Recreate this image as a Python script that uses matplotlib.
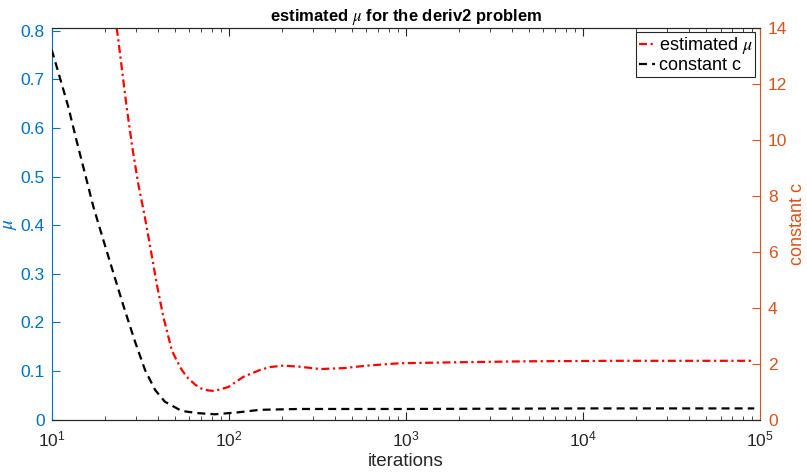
import numpy as np
import matplotlib
matplotlib.use("Agg")
import matplotlib.pyplot as plt
from matplotlib.ticker import LogLocator, NullFormatter, MultipleLocator

plt.rcParams['font.family'] = ['Liberation Sans', 'DejaVu Sans']
plt.rcParams['mathtext.fontset'] = 'stix'

# estimated mu (left axis)
mu_iters = [23.3, 23.8, 26.5, 28.7, 30.8, 33.6, 35.5, 39.2, 42.7, 47.7, 50.8, 54.2, 58, 64.6, 70, 76.7, 83, 99.5,
            120.9, 150, 170, 203, 250, 328, 450, 600, 929, 2000, 5000, 15000, 40000, 93000]
mu_vals = [0.806, 0.781, 0.644, 0.555, 0.486, 0.417, 0.369, 0.280, 0.212, 0.143, 0.122, 0.103, 0.088, 0.072, 0.064,
           0.060, 0.059, 0.067, 0.088, 0.102, 0.108, 0.111, 0.109, 0.104, 0.106, 0.111, 0.116, 0.118, 0.120,
           0.121, 0.121, 0.121]

# constant c (right axis)
c_iters = [10, 10.9, 12.4, 13.8, 15.4, 17.2, 19.6, 22.3, 25.4, 29.6, 33.7, 38.4, 43.6,
           54.2, 67.3, 83.7, 113, 150, 250, 1000, 10000, 93000]
c_vals = [13.22, 12.42, 11.19, 9.99, 8.81, 7.61, 6.41, 5.25, 4.08, 2.78, 1.77, 1.06, 0.64,
          0.31, 0.23, 0.19, 0.26, 0.35, 0.38, 0.38, 0.40, 0.40]

blue = '#0072BD'
orange = '#D95319'
dark = '#262626'

fig, ax = plt.subplots(figsize=(8.07, 4.72), dpi=100)
fig.subplots_adjust(left=0.064, right=0.9415, top=0.941, bottom=0.111)
ax2 = ax.twinx()

l1, = ax.plot(mu_iters, mu_vals, color='red', ls=(0, (3.6, 1.6, 1, 1.6)), lw=1.6, label=r'estimated $\mu$')
l2, = ax2.plot(c_iters, c_vals, color='black', ls=(0, (3.6, 2.3)), lw=1.6, label='constant c')

ax.set_xscale('log')
ax.set_xlim(10, 1e5)
ax.set_ylim(0, 0.806)
ax2.set_ylim(0, 14)
ax.set_yticks(np.arange(0, 0.81, 0.1))
ax.set_yticklabels(['0', '0.1', '0.2', '0.3', '0.4', '0.5', '0.6', '0.7', '0.8'])
ax2.yaxis.set_major_locator(MultipleLocator(2))
ax.xaxis.set_minor_locator(LogLocator(base=10, subs=np.arange(2, 10), numticks=20))
ax.xaxis.set_minor_formatter(NullFormatter())

fs = 12.5
ax.tick_params(axis='x', which='both', direction='in', top=True, labelsize=fs, colors=dark, pad=7)
ax.tick_params(axis='x', which='major', length=6)
ax.tick_params(axis='x', which='minor', length=3)
ax.tick_params(axis='y', direction='in', length=6, colors=blue, labelsize=fs, pad=5)
ax2.tick_params(axis='y', direction='in', length=6, colors=orange, labelsize=fs, pad=6)

ax.spines['left'].set_color(blue)
ax.spines['right'].set_visible(False)
ax2.spines['left'].set_visible(False)
ax2.spines['right'].set_color(orange)
for a in (ax, ax2):
    a.spines['top'].set_color(dark)
    a.spines['bottom'].set_color(dark)

ax.set_ylabel(r'$\mu$', color=blue, fontsize=14, labelpad=1)
ax2.set_ylabel('constant c', color=orange, fontsize=13, labelpad=1)
ax.set_xlabel('iterations', color=dark, fontsize=13.5, labelpad=3)
ax.set_title(r'estimated $\mu$ for the deriv2 problem', fontweight='bold', fontsize=12, pad=5)

leg = ax2.legend(handles=[l1, l2], loc='upper right', fontsize=13, fancybox=False,
                 edgecolor=dark, framealpha=1, borderpad=0.15, labelspacing=0.05,
                 handlelength=0.9, handletextpad=0.2, borderaxespad=0.25)
leg.get_frame().set_linewidth(0.8)

fig.savefig('out.png', dpi=100)
